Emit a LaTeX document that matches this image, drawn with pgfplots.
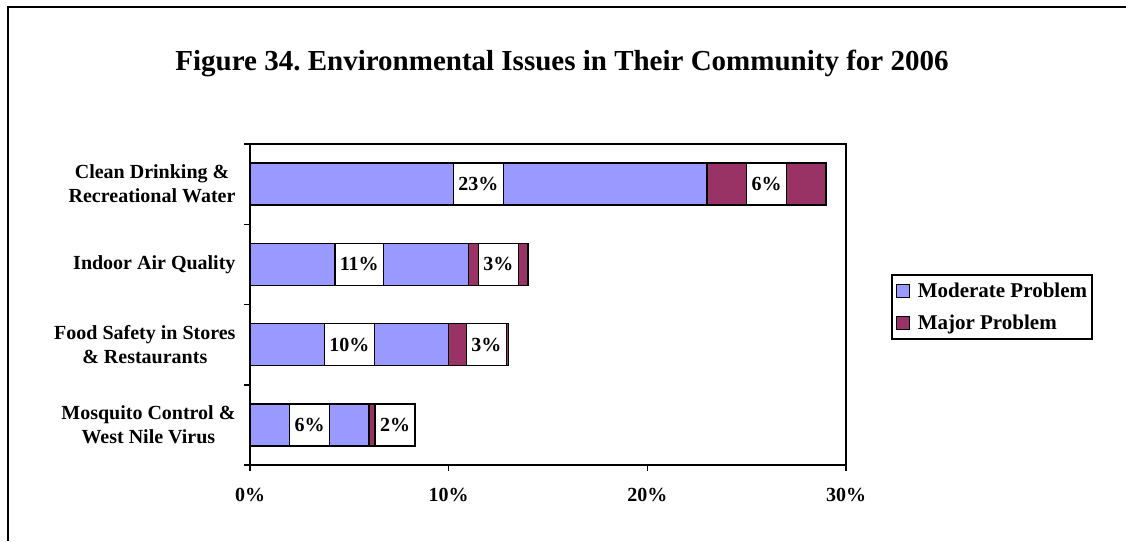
\documentclass[border=0pt]{standalone}
\usepackage{fontspec}
\setmainfont{Liberation Serif}
\usepackage{pgfplots}
\pgfplotsset{compat=1.18}
\definecolor{modc}{HTML}{9999FF}
\definecolor{majc}{HTML}{993366}
\newcommand{\lblfont}{\fontsize{20}{24}\selectfont\bfseries}
\frenchspacing
\begin{document}
\begin{tikzpicture}
\path[use as bounding box] (0pt,0pt) rectangle (1126pt,541pt);
\draw[line width=2pt] (8pt,0pt) -- (8pt,534pt) -- (1126pt,534pt);
\node[font=\fontsize{29}{34}\selectfont\bfseries] at (562pt,478pt) {Figure 34. Environmental Issues in Their Community for 2006};
\begin{axis}[
  at={(250pt,76pt)}, anchor=south west,
  scale only axis, width=596pt, height=321pt,
  xmin=0, xmax=30, ymin=-0.5, ymax=3.5,
  xbar stacked, bar width=42pt,
  axis line style={line width=1.5pt},
  every tick/.style={line width=1.5pt, black},
  major tick length=6pt,
  tick align=outside,
  xtick pos=bottom, ytick pos=left,
  xtick={0,10,20,30},
  xticklabels={0\%,10\%,20\%,30\%},
  xticklabel style={font=\lblfont, yshift=-14pt},
  ytick={-0.5,0.5,1.5,2.5,3.5},
  y tick label as interval,
  yticklabels={{Mosquito Control \&\\West Nile Virus},{Food Safety in Stores\\\& Restaurants},{Indoor Air Quality},{Clean Drinking \&\\Recreational Water},{}},
  yticklabel style={font=\lblfont, align=center, xshift=-5pt},
  legend style={at={(1.0755,0.595)}, anchor=north west, draw=black, line width=1.5pt,
    font=\fontsize{21}{24}\selectfont\bfseries, inner xsep=3pt, inner ysep=6pt,
    row sep=12pt, legend cell align=left},
  legend image code/.code={\path[draw=none, fill=none] (-2pt,0pt) -- (19pt,0pt);
    \draw[#1, line width=1.2pt] (0pt,-6.5pt) rectangle (13pt,6.5pt);},
]
\addplot[fill=modc, draw=black, line width=1.5pt] coordinates {(6,0) (10,1) (11,2) (23,3)};
\addplot[fill=majc, draw=black, line width=1.5pt] coordinates {(2,0) (3,1) (3,2) (6,3)};
\legend{Moderate Problem, Major Problem}
\end{axis}
\begin{axis}[
  at={(250pt,76pt)}, anchor=south west,
  scale only axis, width=596pt, height=321pt,
  xmin=0, xmax=30, ymin=-0.5, ymax=3.5,
  hide axis, clip=false,
]
\addplot[draw=none, mark=none, nodes near coords, point meta=explicit symbolic,
  every node near coord/.append style={anchor=center, fill=white, draw=black, line width=1.5pt,
    minimum height=42pt, inner xsep=5pt, font=\lblfont}]
  coordinates {(11.5,3) [23\%] (26,3) [6\%] (5.5,2) [11\%] (12.5,2) [3\%]
               (5,1) [10\%] (11.9,1) [3\%] (3,0) [6\%] (7.3,0) [2\%]};
\end{axis}
\end{tikzpicture}
\end{document}
